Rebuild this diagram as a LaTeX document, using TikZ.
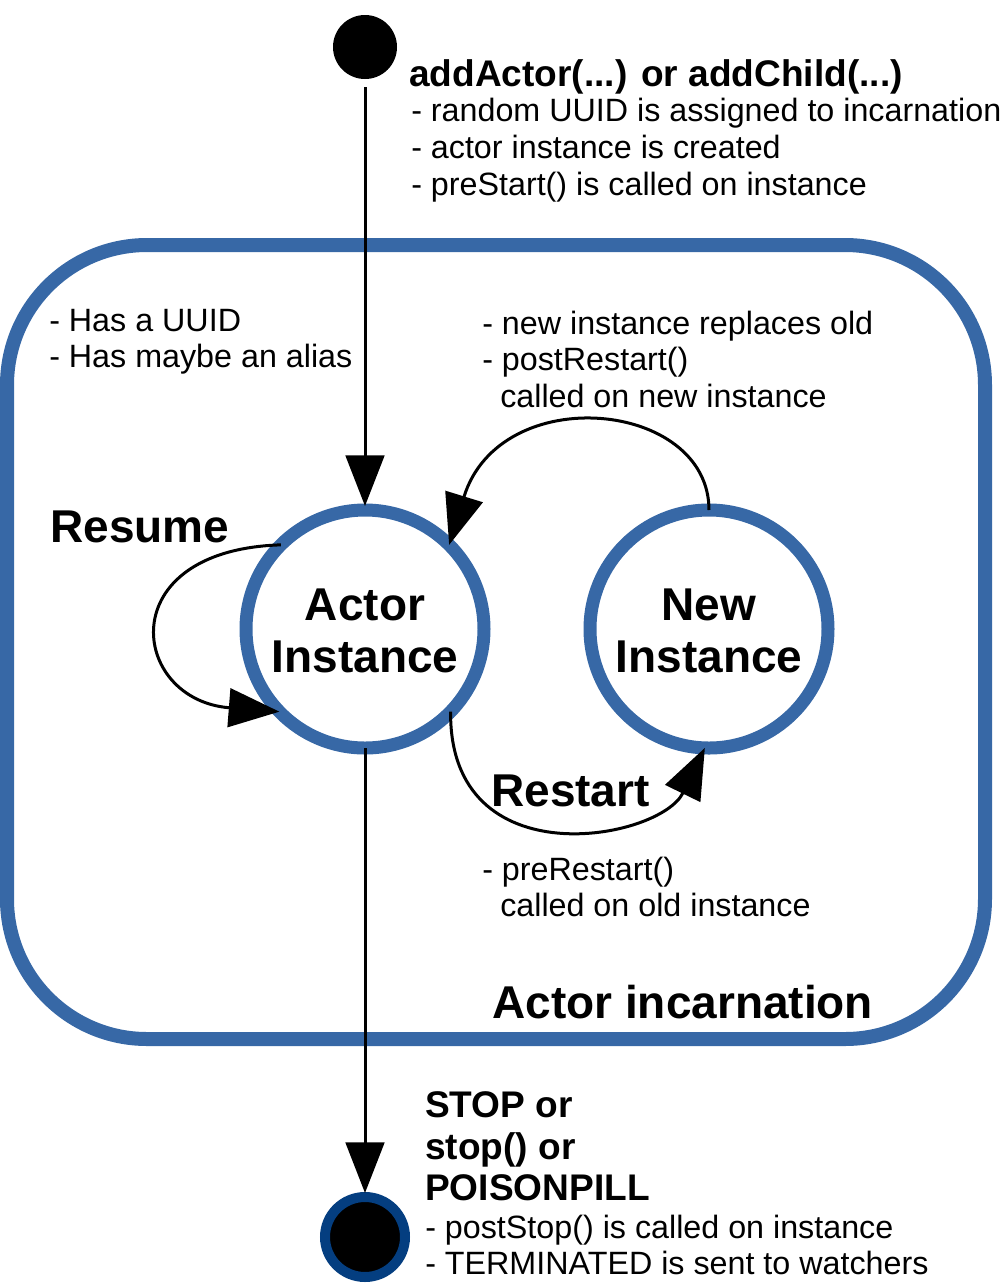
\documentclass[tikz,border=0pt]{standalone}
\usepackage{fontspec}
\setmainfont{Liberation Sans}
\usetikzlibrary{arrows.meta}
\definecolor{stateblue}{RGB}{55,104,166}
\definecolor{endblue}{RGB}{4,62,128}
\begin{document}
\begin{tikzpicture}[x=0.75pt,y=-0.75pt,
  small/.style={anchor=base west,inner sep=0pt,font=\fontsize{24.2}{27.75}\selectfont},
  med/.style={anchor=base west,inner sep=0pt,font=\bfseries\fontsize{27.8}{31.5}\selectfont},
  big/.style={inner sep=0pt,font=\bfseries\fontsize{34.5}{39}\selectfont},
  statecirc/.style={circle,draw=stateblue,line width=9.75pt,minimum size=178.5pt,inner sep=0pt,outer sep=0pt},
  conn/.style={line width=2.25pt},
  arr/.style={conn,-{Triangle[length=38pt,width=29pt]}}]
\useasboundingbox (0,0) rectangle (1000,1283);
% incarnation box
\draw[stateblue,line width=10.5pt,rounded corners=105pt] (7,245) rectangle (985,1039);
% start and end
\node[circle,fill=black,minimum size=48pt,inner sep=0pt] (start) at (365,47) {};
\node[circle,fill=black,draw=endblue,line width=7.5pt,minimum size=60pt,inner sep=0pt,outer sep=0pt] (stop) at (365,1237) {};
% states
\node[statecirc] (actor) at (365,629) {};
\node[statecirc] (new) at (709,629) {};
\node[big,anchor=base] (actorl1) at (365,620) {Actor};
\node[big,anchor=base] (actorl2) at (365,672) {Instance};
\node[big,anchor=base] (newl1) at (709,620) {New};
\node[big,anchor=base] (newl2) at (709,672) {Instance};
% connectors
\coordinate (startout) at (365,87);
\draw[arr] (startout) -- ([yshift=3pt]actor.north);
\draw[arr] (actor.south) -- ([yshift=3pt]stop.north);
\draw[arr] (actor.135) .. controls (110,550) and (130,700) .. (actor.224);
\draw[arr] (actor.316) .. controls (449,880) and (660,840) .. (new.268);
\draw[arr] (new.north) .. controls (709,400) and (500,380) .. (actor.45);
% texts
\node[med] (add) at (409,86) {addActor(...) or addChild(...)};
\node[small] (t1) at (411,121) {- random UUID is assigned to incarnation};
\node[small] (t2) at (411,158) {- actor instance is created};
\node[small] (t3) at (411,195) {- preStart() is called on instance};
\node[small] (h1) at (49,331) {- Has a UUID};
\node[small] (h2) at (49,367) {- Has maybe an alias};
\node[small] (p1) at (482,334) {- new instance replaces old};
\node[small] (p2) at (482,370) {- postRestart()};
\node[small] (p3) at (500,407) {called on new instance};
\node[big,anchor=base west] (resume) at (50,542) {Resume};
\node[big,anchor=base west] (restart) at (491,806) {Restart};
\node[small] (r1) at (482,880) {- preRestart()};
\node[small] (r2) at (500,916) {called on old instance};
\node[big,anchor=base west] (incarn) at (492,1018) {Actor incarnation};
\node[med] (s1) at (425,1117) {STOP or};
\node[med] (s2) at (425,1159) {stop() or};
\node[med] (s3) at (425,1200) {POISONPILL};
\node[small] (s4) at (425,1238) {- postStop() is called on instance};
\node[small] (s5) at (425,1274) {- TERMINATED is sent to watchers};
\end{tikzpicture}
\end{document}
